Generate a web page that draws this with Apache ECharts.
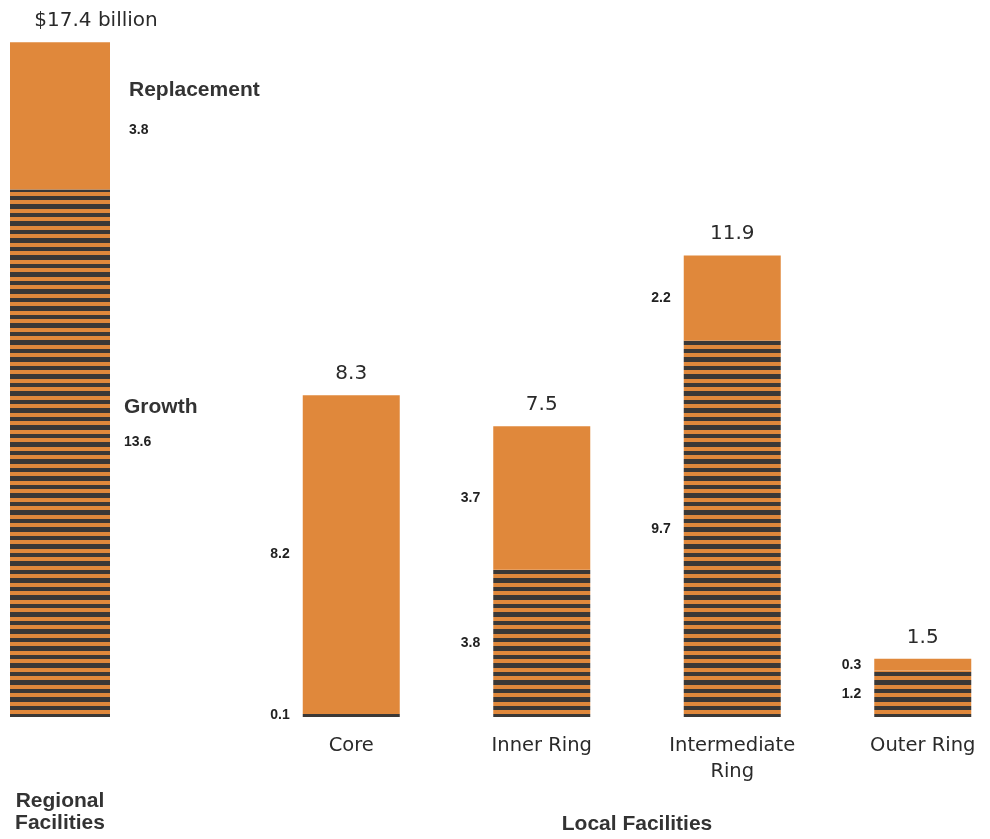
<!DOCTYPE html>
<html>
<head>
<meta charset="utf-8">
<title>Facility costs</title>
<script src="https://cdn.jsdelivr.net/npm/echarts@6/dist/echarts.min.js"></script>
<style>
  html, body { margin: 0; padding: 0; background: #ffffff; }
  #chart { width: 990px; height: 839px; }
</style>
</head>
<body>
<div id="chart"></div>
<script>
// Cost in billions of dollars: regional facilities first, then the four local rings
const regionalCategory = ['Regional\nFacilities'];
const localCategories = ['Core', 'Inner Ring', 'Intermediate\nRing', 'Outer Ring'];
const growth = [13.6, 0.1, 3.8, 9.7, 1.2];
const replacement = [3.8, 8.2, 3.7, 2.2, 0.3];
const totals = [17.4, 8.3, 7.5, 11.9, 1.5];

const ORANGE = '#e0883b';
const STRIPE = '#3b3836';
const TEXT = '#2a2a2a';
const SANS = '"DejaVu Sans", sans-serif';
const BOLD = '"Liberation Sans", Arial, sans-serif';

// Horizontal ruling used for the growth portion of each bar
function stripePattern() {
  const c = document.createElement('canvas');
  c.width = 8;
  c.height = 17;
  const ctx = c.getContext('2d');
  ctx.fillStyle = ORANGE;
  ctx.fillRect(0, 0, 8, 17);
  ctx.fillStyle = STRIPE;
  ctx.fillRect(0, 0, 8, 5);
  ctx.fillRect(0, 9, 8, 4);
  return { image: c, repeat: 'repeat' };
}
const stripes = stripePattern();

const chart = echarts.init(document.getElementById('chart'), null, { renderer: 'canvas' });

const segLabel = {
  show: true,
  position: 'left',
  distance: 13,
  fontFamily: BOLD,
  fontWeight: 'bold',
  fontSize: 14,
  color: '#222'
};

const totalLabel = {
  show: true,
  position: 'top',
  distance: 11,
  fontFamily: SANS,
  fontSize: 20,
  color: TEXT
};

// Series names written beside the regional bar's segments
function regionalRich(gap) {
  return {
    name: { fontFamily: BOLD, fontWeight: 'bold', fontSize: 21, color: '#333', lineHeight: gap },
    val: { fontFamily: BOLD, fontWeight: 'bold', fontSize: 14, color: '#222', lineHeight: gap }
  };
}

const option = {
  animation: false,
  backgroundColor: '#ffffff',
  grid: [
    { left: 10, width: 100, top: 19, bottom: 122, outerBoundsMode: 'none', containLabel: false },
    { left: 256, width: 762, top: 19, bottom: 122, outerBoundsMode: 'none', containLabel: false }
  ],
  xAxis: [
    {
      gridIndex: 0,
      type: 'category',
      data: regionalCategory,
      axisLine: { show: false },
      axisTick: { show: false },
      axisLabel: {
        margin: 73,
        fontFamily: BOLD,
        fontWeight: 'bold',
        fontSize: 21,
        lineHeight: 22,
        color: '#333'
      }
    },
    {
      gridIndex: 1,
      type: 'category',
      data: localCategories,
      axisLine: { show: false },
      axisTick: { show: false },
      axisLabel: {
        margin: 16,
        fontFamily: SANS,
        fontSize: 19.5,
        lineHeight: 26,
        color: TEXT
      },
      name: 'Local Facilities',
      nameLocation: 'middle',
      nameGap: 97,
      nameTextStyle: {
        fontFamily: BOLD,
        fontWeight: 'bold',
        fontSize: 21,
        color: '#333'
      }
    }
  ],
  yAxis: [
    { gridIndex: 0, type: 'value', min: 0, max: 18, show: false },
    { gridIndex: 1, type: 'value', min: 0, max: 18, show: false }
  ],
  series: [
    {
      name: 'Growth',
      type: 'bar',
      xAxisIndex: 0,
      yAxisIndex: 0,
      stack: 'regional',
      barWidth: 100,
      itemStyle: { color: stripes },
      label: {
        show: true,
        position: 'right',
        distance: 14,
        offset: [0, -29],
        rich: regionalRich(35),
        formatter: p => '{name|Growth}\n{val|' + p.value + '}'
      },
      data: growth.slice(0, 1)
    },
    {
      name: 'Replacement',
      type: 'bar',
      xAxisIndex: 0,
      yAxisIndex: 0,
      stack: 'regional',
      barWidth: 100,
      itemStyle: { color: ORANGE },
      label: {
        show: true,
        position: 'right',
        distance: 19,
        offset: [0, -6],
        rich: regionalRich(40),
        formatter: p => '{name|Replacement}\n{val|' + p.value + '}'
      },
      data: replacement.slice(0, 1)
    },
    {
      name: 'Regional total',
      type: 'scatter',
      xAxisIndex: 0,
      yAxisIndex: 0,
      symbolSize: 1,
      itemStyle: { color: 'rgba(0,0,0,0)', opacity: 1 },
      label: Object.assign({}, totalLabel, {
        offset: [36, 0],
        formatter: p => '$' + p.value + ' billion'
      }),
      data: totals.slice(0, 1)
    },
    {
      name: 'Growth',
      type: 'bar',
      xAxisIndex: 1,
      yAxisIndex: 1,
      stack: 'local',
      barWidth: 97,
      itemStyle: { color: stripes },
      label: segLabel,
      data: growth.slice(1)
    },
    {
      name: 'Replacement',
      type: 'bar',
      xAxisIndex: 1,
      yAxisIndex: 1,
      stack: 'local',
      barWidth: 97,
      itemStyle: { color: ORANGE },
      label: segLabel,
      data: replacement.slice(1)
    },
    {
      name: 'Local total',
      type: 'scatter',
      xAxisIndex: 1,
      yAxisIndex: 1,
      symbolSize: 1,
      itemStyle: { color: 'rgba(0,0,0,0)', opacity: 1 },
      label: totalLabel,
      data: totals.slice(1)
    }
  ]
};

chart.setOption(option);
</script>
</body>
</html>
